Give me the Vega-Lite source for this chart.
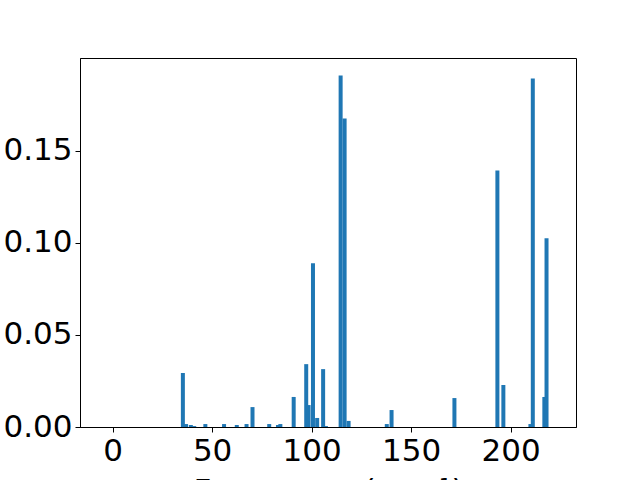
{
  "$schema": "https://vega.github.io/schema/vega-lite/v6.json",
  "autosize": "none",
  "width": 496,
  "height": 369,
  "padding": {"left": 80, "top": 58, "right": 64, "bottom": 53},
  "background": "white",
  "config": {
    "view": {"stroke": "black", "strokeWidth": 1},
    "font": "DejaVu Sans"
  },
  "data": {
    "values": [
      {"f": 36.9, "v": 0.0016},
      {"f": 35.3, "v": 0.0293},
      {"f": 41.0, "v": 0.0005},
      {"f": 39.3, "v": 0.0011},
      {"f": 46.6, "v": 0.0016},
      {"f": 56.0, "v": 0.0016},
      {"f": 62.4, "v": 0.0011},
      {"f": 67.3, "v": 0.0016},
      {"f": 70.3, "v": 0.0108},
      {"f": 78.7, "v": 0.0016},
      {"f": 83.1, "v": 0.0011},
      {"f": 84.3, "v": 0.0016},
      {"f": 91.0, "v": 0.0163},
      {"f": 98.5, "v": 0.0119},
      {"f": 97.3, "v": 0.0341},
      {"f": 100.7, "v": 0.0888},
      {"f": 102.8, "v": 0.0049},
      {"f": 107.2, "v": 0.0005},
      {"f": 105.8, "v": 0.0314},
      {"f": 114.6, "v": 0.1907},
      {"f": 116.6, "v": 0.1674},
      {"f": 118.6, "v": 0.0033},
      {"f": 137.8, "v": 0.0016},
      {"f": 140.2, "v": 0.0092},
      {"f": 171.8, "v": 0.0157},
      {"f": 193.4, "v": 0.1392},
      {"f": 196.4, "v": 0.0228},
      {"f": 210.0, "v": 0.0016},
      {"f": 211.2, "v": 0.1891},
      {"f": 217.0, "v": 0.0163},
      {"f": 218.1, "v": 0.1024}
    ]
  },
  "mark": {"type": "bar", "size": 4, "color": "#1f77b4", "clip": true},
  "encoding": {
    "x": {
      "field": "f",
      "type": "quantitative",
      "scale": {"domain": [-13.9, 230.4], "nice": false, "zero": false},
      "axis": {
        "title": "Frequency (cm⁻¹)",
        "titleFontSize": 31,
        "titleFontWeight": "normal",
        "titleColor": "black",
        "titlePadding": 10,
        "values": [0, 50, 100, 150, 200],
        "labelFontSize": 31,
        "labelColor": "black",
        "labelPadding": 4,
        "tickSize": 5,
        "tickColor": "black",
        "domainColor": "black",
        "grid": false
      }
    },
    "y": {
      "field": "v",
      "type": "quantitative",
      "scale": {"domain": [0, 0.2002], "nice": false},
      "axis": {
        "title": null,
        "values": [0, 0.05, 0.1, 0.15],
        "format": ".2f",
        "labelFontSize": 31,
        "labelColor": "black",
        "labelPadding": 3,
        "tickSize": 5,
        "tickColor": "black",
        "domainColor": "black",
        "grid": false
      }
    }
  }
}
